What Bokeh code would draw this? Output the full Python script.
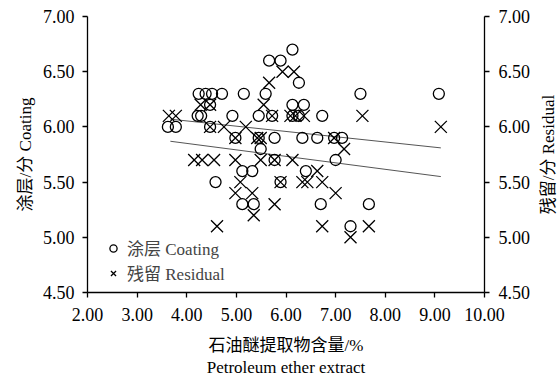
import math
from bokeh.plotting import figure
from bokeh.layouts import row
from bokeh.models import LinearAxis, FixedTicker, PrintfTickFormatter, Legend, LegendItem
from bokeh.core.properties import value
from bokeh.embed import file_html
from bokeh.resources import INLINE

# Coating scores (circles)
coating_x = [3.62, 3.78, 4.22, 4.29, 4.24, 4.38, 4.51, 4.71, 4.47, 4.47,
             4.92, 4.98, 5.15, 5.59, 5.66, 5.89, 6.13, 6.26, 6.13, 6.36,
             5.45, 5.72, 6.13, 6.26, 6.73, 5.45, 5.77, 6.33, 6.63, 6.97,
             7.13, 5.49, 7.00, 5.77, 5.12, 5.32, 6.40, 4.58, 5.89, 5.12,
             5.35, 6.70, 7.67, 7.30, 7.50, 9.08]
coating_y = [6.00, 6.00, 6.10, 6.10, 6.30, 6.30, 6.30, 6.30, 6.20, 6.00,
             6.10, 5.90, 6.30, 6.30, 6.60, 6.60, 6.70, 6.40, 6.20, 6.20,
             6.10, 6.10, 6.10, 6.10, 6.10, 5.90, 5.90, 5.90, 5.90, 5.90,
             5.90, 5.80, 5.70, 5.70, 5.60, 5.60, 5.60, 5.50, 5.50, 5.30,
             5.30, 5.30, 5.30, 5.10, 6.30, 6.30]

# Residual scores (crosses)
residual_x = [3.64, 3.78, 4.28, 4.47, 4.47, 4.75, 5.19, 4.15, 4.31, 4.55,
              4.98, 4.98, 5.66, 5.93, 6.16, 5.55, 5.72, 6.09, 6.19, 6.36,
              5.42, 5.49, 6.97, 5.49, 5.77, 6.13, 7.17, 6.63, 5.08, 5.89,
              6.33, 6.43, 6.73, 4.98, 5.32, 7.00, 5.77, 5.35, 4.61, 6.73,
              7.67, 7.30, 7.54, 9.12]
residual_y = [6.10, 6.10, 6.20, 6.20, 6.00, 6.00, 6.00, 5.70, 5.70, 5.70,
              5.70, 5.90, 6.40, 6.50, 6.50, 6.20, 6.10, 6.10, 6.10, 6.10,
              5.90, 5.90, 5.90, 5.70, 5.70, 5.70, 5.80, 5.60, 5.50, 5.50,
              5.50, 5.50, 5.50, 5.40, 5.40, 5.40, 5.30, 5.20, 5.10, 5.10,
              5.10, 5.00, 6.10, 6.00]

# Fitted trend lines
fit_x = [3.67, 9.12]
coating_fit = [6.07, 5.81]
residual_fit = [5.87, 5.55]

x_ticks = [2, 3, 4, 5, 6, 7, 8, 9, 10]
y_ticks = [4.5, 5.0, 5.5, 6.0, 6.5, 7.0]

right_title = "残留/分 Residual"

FONT = "'Liberation Serif', 'Noto Sans CJK SC'"

p = figure(width=537, height=380, x_range=(2, 10), y_range=(4.5, 7),
           output_backend="svg", toolbar_location=None,
           min_border_left=87, min_border_right=53,
           min_border_top=16, min_border_bottom=85)
p.outline_line_color = None
p.grid.visible = False
p.background_fill_color = "white"

p.line(fit_x, coating_fit, line_color="#555555", line_width=1)
p.line(fit_x, residual_fit, line_color="#555555", line_width=1)

c = p.scatter(coating_x, coating_y, marker="circle", size=11,
              fill_color=None, line_color="black", line_width=1.3)
r = p.scatter(residual_x, residual_y, marker="x", size=17,
              line_color="black", line_width=1.3)


def style_axis(ax, ticks):
    ax.ticker = FixedTicker(ticks=ticks)
    ax.formatter = PrintfTickFormatter(format="%.2f")
    ax.major_tick_in = 0
    ax.major_tick_out = 5
    ax.minor_tick_in = 0
    ax.minor_tick_out = 0
    ax.axis_line_width = 1.3
    ax.major_tick_line_width = 1.3
    ax.axis_line_color = "black"
    ax.major_tick_line_color = "black"
    ax.major_label_text_font = FONT
    ax.major_label_text_font_size = "18px"
    ax.major_label_text_color = "black"
    ax.axis_label_text_font = FONT
    ax.axis_label_text_font_size = "17px"
    ax.axis_label_text_font_style = "normal"
    ax.axis_label_text_color = "black"


right_axis = LinearAxis()
p.add_layout(right_axis, "right")

p.xaxis[0].axis_label = "石油醚提取物含量/%\nPetroleum ether extract"
p.yaxis[0].axis_label = "涂层/分 Coating"

style_axis(p.xaxis[0], x_ticks)
style_axis(p.yaxis[0], y_ticks)
style_axis(right_axis, y_ticks)

p.xaxis[0].major_label_standoff = 10
p.yaxis[0].major_label_standoff = 8
right_axis.major_label_standoff = 9
p.yaxis[0].axis_label_standoff = 5
p.xaxis[0].axis_label_standoff = 12

legend = Legend(items=[LegendItem(label="涂层 Coating", renderers=[c]),
                       LegendItem(label="残留 Residual", renderers=[r])],
                location=(17, 7), padding=0, margin=0, spacing=0,
                glyph_width=18, glyph_height=24, label_height=24,
                label_standoff=5,
                label_text_font=FONT, label_text_font_size="17px",
                border_line_color=None, background_fill_alpha=0)
p.add_layout(legend)

# narrow strip holding the right-hand axis title (reads bottom to top)
p2 = figure(width=22, height=380, x_range=(0, 1), y_range=p.y_range,
            output_backend="svg", toolbar_location=None,
            x_axis_location=None, y_axis_location=None,
            min_border_left=0, min_border_right=0,
            min_border_top=16, min_border_bottom=85)
p2.outline_line_color = None
p2.grid.visible = False
p2.text(x=[0.5], y=[5.75], text=[right_title], angle=math.pi / 2,
        text_align="center", text_baseline="middle",
        text_font=value(FONT), text_font_size="17px", text_color="black")

layout = row(p, p2, spacing=0)

open("out.html", "w").write(file_html(layout, INLINE))
